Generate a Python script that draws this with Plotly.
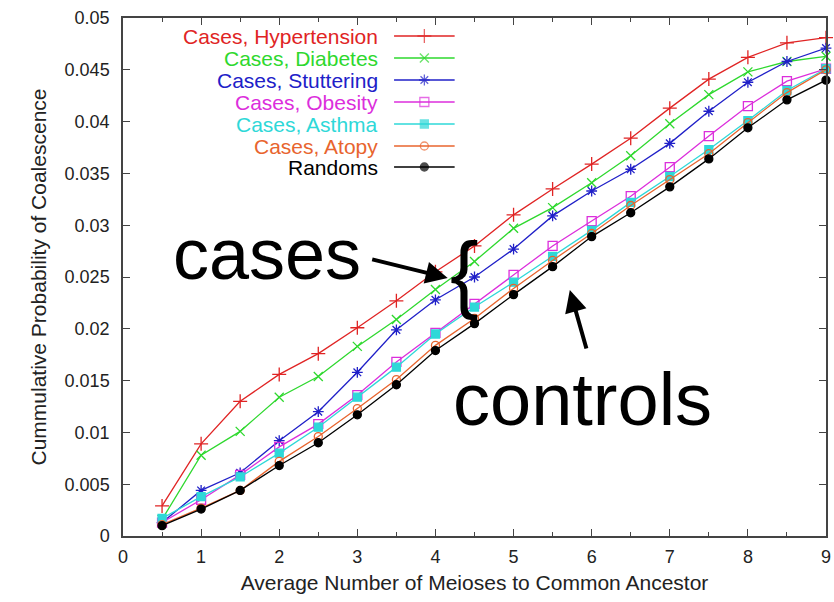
import plotly.graph_objects as go

# ---------------- data ----------------
meioses = [0.5, 1, 1.5, 2, 2.5, 3, 3.5, 4, 4.5, 5, 5.5, 6, 6.5, 7, 7.5, 8, 8.5, 9]

hypertension = [0.0029, 0.0089, 0.0130, 0.0156, 0.0176, 0.0201, 0.0227, 0.0255, 0.0280,
                0.0310, 0.0335, 0.0359, 0.0384, 0.0413, 0.0441, 0.0462, 0.0476, 0.0481]
diabetes = [0.0016, 0.0078, 0.0101, 0.0134, 0.0154, 0.0183, 0.0209, 0.0238, 0.0265,
            0.0297, 0.0317, 0.0341, 0.0367, 0.0398, 0.0426, 0.0448, 0.0458, 0.0463]
stuttering = [0.0013, 0.0044, 0.0061, 0.0092, 0.0120, 0.0158, 0.0199, 0.0228, 0.0250,
              0.0277, 0.0309, 0.0333, 0.0354, 0.0379, 0.0410, 0.0438, 0.0458, 0.0471]
obesity = [0.0013, 0.0035, 0.0059, 0.0086, 0.0108, 0.0136, 0.0168, 0.0196, 0.0224,
           0.0252, 0.0280, 0.0304, 0.0328, 0.0356, 0.0386, 0.0415, 0.0439, 0.0451]
asthma = [0.0017, 0.0038, 0.0057, 0.0080, 0.0105, 0.0134, 0.0163, 0.0195, 0.0221,
          0.0245, 0.0270, 0.0295, 0.0322, 0.0347, 0.0373, 0.0401, 0.0430, 0.0451]
atopy = [0.0011, 0.0027, 0.0044, 0.0072, 0.0096, 0.0123, 0.0151, 0.0184, 0.0210,
         0.0239, 0.0266, 0.0292, 0.0319, 0.0344, 0.0369, 0.0399, 0.0428, 0.0450]
randoms = [0.0010, 0.0026, 0.0044, 0.0068, 0.0090, 0.0117, 0.0146, 0.0179, 0.0205,
           0.0233, 0.0260, 0.0289, 0.0312, 0.0337, 0.0364, 0.0394, 0.0421, 0.0440]

series_names = ["Cases, Hypertension", "Cases, Diabetes", "Cases, Stuttering",
                "Cases, Obesity", "Cases, Asthma", "Cases, Atopy", "Randoms"]
series_values = [hypertension, diabetes, stuttering, obesity, asthma, atopy, randoms]

x_ticks = [0, 1, 2, 3, 4, 5, 6, 7, 8, 9]
y_ticks = [0, 0.005, 0.01, 0.015, 0.02, 0.025, 0.03, 0.035, 0.04, 0.045, 0.05]
y_tick_labels = ["0", "0.005", "0.01", "0.015", "0.02", "0.025", "0.03", "0.035", "0.04", "0.045", "0.05"]

x_title = "Average Number of Meioses to Common Ancestor"
y_title = "Cummulative Probability of Coalescence"

# ---------------- styles ----------------
colors = ["#e02424", "#2ed82e", "#2020c8", "#dc2edc", "#2ed8d8", "#e8642e", "#000000"]
symbols = ["cross-thin", "x-thin", "asterisk-open", "square-open", "square", "circle-open", "circle"]
sizes = [10, 9, 9, 9, 8, 8, 8]

W, H = 834, 602
ML, MR, MT, MB = 123, 3, 18, 66
PW, PH = W - ML - MR, H - MT - MB


def px2paper(px, py):
    return (px - ML) / PW, (H - MB - py) / PH


fig = go.Figure()

for name, vals, c, s, sz in zip(series_names, series_values, colors, symbols, sizes):
    fig.add_trace(go.Scatter(
        x=meioses, y=vals, mode="lines+markers", name=name,
        line=dict(color=c, width=1.3),
        marker=dict(symbol=s, size=sz, color=c, line=dict(color=c, width=1.3)),
        showlegend=False, cliponaxis=False,
    ))

# ---------------- gnuplot-style key (overlay axes in pixel units) ----------------
key_text_right = 382 - ML
key_line = (396 - ML, 457 - ML)
key_rows = [36, 58, 80, 102, 124, 146, 167]
for i, (name, c, s, sz) in enumerate(zip(series_names, colors, symbols, sizes)):
    yy = key_rows[i] - MT
    fig.add_trace(go.Scatter(
        x=[key_line[0], (key_line[0] + key_line[1]) / 2, key_line[1]], y=[yy, yy, yy],
        xaxis="x2", yaxis="y2", mode="lines+markers",
        line=dict(color=c, width=1.3),
        marker=dict(symbol=s, size=[0, sz, 0], color=c, line=dict(color=c, width=1.3)),
        showlegend=False, hoverinfo="skip",
    ))
    fig.add_annotation(
        x=key_text_right, y=yy, xref="x2", yref="y2", text=name, showarrow=False,
        xanchor="right", yanchor="middle", font=dict(family="Liberation Sans, Arial", size=21, color=c),
    )

# ---------------- callouts ----------------
big_font = dict(family="Liberation Sans, Arial", size=72, color="black")
cx, cy = px2paper(171, 254)
fig.add_annotation(x=cx, y=cy, xref="paper", yref="paper", text="cases", showarrow=False,
                   xanchor="left", yanchor="middle", font=big_font)
cx, cy = px2paper(453, 399)
fig.add_annotation(x=cx, y=cy, xref="paper", yref="paper", text="controls", showarrow=False,
                   xanchor="left", yanchor="middle",
                   font=dict(family="Liberation Sans, Arial", size=74, color="black"))
cx, cy = px2paper(467, 272)
fig.add_annotation(x=cx, y=cy, xref="paper", yref="paper", text="{", showarrow=False,
                   xanchor="center", yanchor="middle",
                   font=dict(family="Liberation Sans, Arial", size=86, color="black"))
# arrows
tx, ty = px2paper(450, 278)
fig.add_annotation(x=tx, y=ty, xref="paper", yref="paper", text="", showarrow=True,
                   ax=-77, ay=-19, arrowhead=2, arrowwidth=4, arrowsize=1.1, arrowcolor="black")
tx, ty = px2paper(573, 290)
fig.add_annotation(x=tx, y=ty, xref="paper", yref="paper", text="", showarrow=True,
                   ax=17, ay=60, arrowhead=2, arrowwidth=4, arrowsize=1.1, arrowcolor="black")

axis_common = dict(
    showgrid=False, zeroline=False, showline=True, linecolor="#444", linewidth=1.5,
    mirror="ticks", ticks="inside", tickcolor="#444", tickwidth=1.2, ticklen=7,
    tickfont=dict(family="Liberation Sans, Arial", size=18, color="#222"),
)

fig.update_layout(
    width=W, height=H,
    margin=dict(l=ML, r=MR, t=MT, b=MB),
    paper_bgcolor="white", plot_bgcolor="white",
    xaxis=dict(range=[0, 9], tickvals=x_ticks, ticklabelstandoff=4, ticklabeloverflow="allow",
               minor=dict(dtick=0.5, ticks="inside", ticklen=4, tickcolor="#444", tickwidth=1.2),
               title=dict(text=x_title, font=dict(family="Liberation Sans, Arial", size=21, color="#222"),
                          standoff=9),
               **axis_common),
    yaxis=dict(range=[0, 0.05], tickvals=y_ticks, ticktext=y_tick_labels, ticklabelstandoff=8,
               title=dict(text=y_title, font=dict(family="Liberation Sans, Arial", size=21, color="#222"),
                          standoff=12),
               **axis_common),
    xaxis2=dict(overlaying="x", range=[0, PW], visible=False, fixedrange=True),
    yaxis2=dict(overlaying="y", range=[PH, 0], visible=False, fixedrange=True),
)

fig.write_html("out.html")
